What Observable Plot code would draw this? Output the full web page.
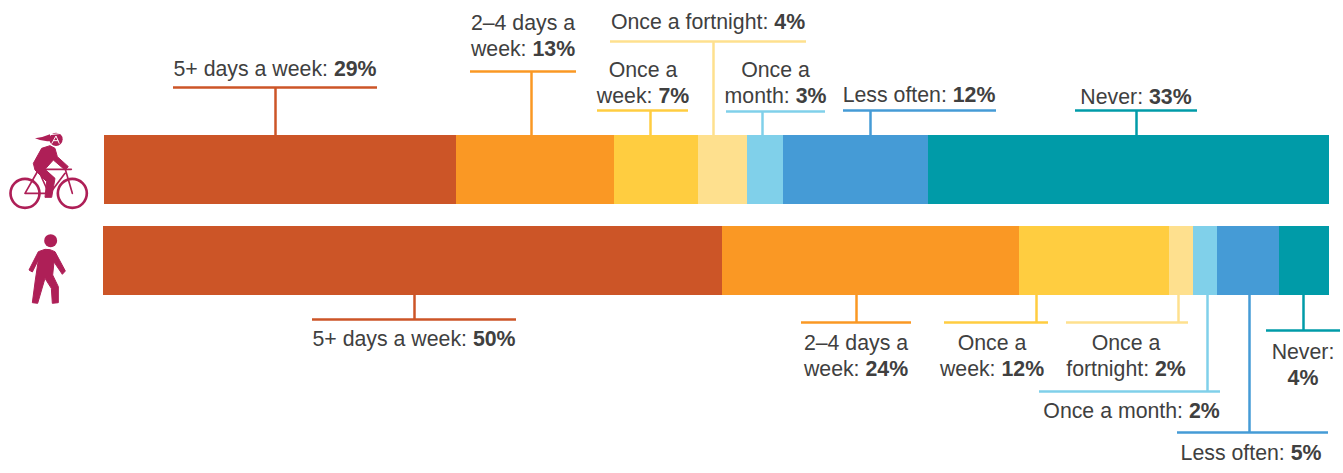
<!DOCTYPE html>
<html>
<head>
<meta charset="utf-8">
<style>
html,body{margin:0;padding:0;background:#fff}
svg{display:block}
</style>
<script src="https://cdn.jsdelivr.net/npm/d3@7"></script>
<script src="https://cdn.jsdelivr.net/npm/@observablehq/plot@0.6"></script>
</head>
<body>
<div id="chart"></div>
<script>
// ---- data ----
const frequencies = ["5+ days a week","2–4 days a week","Once a week","Once a fortnight","Once a month","Less often","Never"];
const colours = ["#cc5527","#fa9824","#ffcd40","#fee08e","#80d0ea","#459bd6","#009ba8"];
const cyclingShares = [28.75,12.85,6.9,4.0,2.9,11.9,32.7];
const walkingShares = [50.55,24.25,12.2,2.0,1.9,5.1,4.1];
const cyclingLabels = [29,13,7,4,3,12,33];
const walkingLabels = [50,24,12,2,2,5,4];

// label wording with line breaks
const cyclingWording = ["5+ days a week: ","2–4 days a\nweek: ","Once a\nweek: ","Once a fortnight: ","Once a\nmonth: ","Less often: ","Never: "];
const walkingWording = ["5+ days a week: ","2–4 days a\nweek: ","Once a\nweek: ","Once a\nfortnight: ","Once a month: ","Less often: ","Never:\n"];

// ---- layout, in page pixels ----
const barLeft = 104, barRight = 1329;
const pct = d3.scaleLinear([barLeft, barRight], [0, 100]);
const cyclingBar = [135, 204], walkingBar = [226, 295];
const cyclingLayout = {
  lineY:  [87,71,110,41,111,110,110],
  lineX1: [173,470,597,610,726,843,1075],
  lineX2: [377,576,688,806,825,996,1197],
  stemX:  [275,531,650,713,762,870,1136],
  textX:  [274.5,522.5,642.5,707.5,775,918.5,1135.5],
  textY:  [67,34,81,20,81,93,95]
};
const walkingLayout = {
  lineY:  [319,322,322,322,391,432,330],
  lineX1: [312,801,944,1066,1039,1177,1266],
  lineX2: [516,911,1048,1188,1220,1328,1340],
  stemX:  [414,856,1036,1178,1207,1249,1303],
  textX:  [413.5,855.5,991.5,1125.5,1131,1250.5,1302.5],
  textY:  [337,354,354,354,409,451,363]
};

// ---- tables ----
function segments(shares, start, band) {
  let acc = start;
  return shares.map((s, i) => {
    const r = {frequency: frequencies[i], x1: acc, x2: acc + s, y1: band[0], y2: band[1]};
    acc += s;
    return r;
  });
}
function leaders(layout, labels, wording, barEdge) {
  return frequencies.map((f, i) => ({
    frequency: f,
    y: layout.lineY[i],
    x1: pct(layout.lineX1[i]),
    x2: pct(layout.lineX2[i]),
    stem: pct(layout.stemX[i]),
    edge: barEdge,
    tx: pct(layout.textX[i]),
    ty: layout.textY[i],
    label: wording[i] + labels[i] + "%"
  }));
}
const bars = [...segments(cyclingShares, 0, cyclingBar), ...segments(walkingShares, -0.08, walkingBar)];
const notes = [
  ...leaders(cyclingLayout, cyclingLabels, cyclingWording, cyclingBar[0]),
  ...leaders(walkingLayout, walkingLabels, walkingWording, walkingBar[1])
];

// ---- icons ----
const iconColour = "#ae1f57";
function icons() {
  const ns = "http://www.w3.org/2000/svg";
  const g = document.createElementNS(ns, "g");
  g.setAttribute("transform", "translate(0,110) scale(0.33333)");
  g.innerHTML = `
  <g fill="none" stroke="${iconColour}" stroke-linecap="round" stroke-linejoin="round">
    <circle cx="75" cy="250" r="43.5" stroke-width="8"/>
    <circle cx="217" cy="250" r="43.5" stroke-width="8"/>
    <path d="M75 250 H140 M75 250 L115 180 L150 258 M130 178 H214 M150 250 L195 190 M195 175 L217 250" stroke-width="5"/>
  </g>
  <path d="M150 107 L165 115 L172 140 L205 170 L195 180 L160 150 L135 178 L165 205 L155 262 L135 262 L140 215 L105 180 L100 160 L125 115 Z"
        fill="${iconColour}" stroke="${iconColour}" stroke-width="3" stroke-linejoin="round"/>
  <circle cx="168" cy="88" r="20" fill="${iconColour}"/>
  <path d="M105 85 Q130 82 150 73 L152 93 Q128 96 105 85 Z" fill="${iconColour}"/>
  <path d="M150 74 L186 70 M155 101 L168 78 L178 101 M160 92 H175" fill="none" stroke="#fff" stroke-width="3"/>
  <circle cx="152" cy="392" r="19.5" fill="${iconColour}"/>
  <path d="M150 419 L165 425 L196 483 L187 493 L162 456 L158 495 L175 530 L175 578 L157 580 L154 535 L135 505 L113 580 L97 578 L106 510 L115 450 L97 486 L87 480 L115 425 L135 418 Z"
        fill="${iconColour}" stroke="${iconColour}" stroke-width="3" stroke-linejoin="round"/>`;
  return g;
}

// ---- chart ----
const chart = Plot.plot({
  width: 1343,
  height: 473,
  margin: 0,
  style: {background: "#fff"},
  x: {domain: [0, 100], range: [barLeft, barRight], axis: null},
  y: {domain: [0, 473], range: [0, 473], axis: null},
  color: {domain: frequencies, range: colours},
  marks: [
    Plot.rect(bars, {x1: "x1", x2: "x2", y1: "y1", y2: "y2", fill: "frequency", shapeRendering: "crispEdges"}),
    Plot.ruleX(notes, {x: "stem", y1: "y", y2: "edge", stroke: "frequency", strokeWidth: 2.5}),
    Plot.ruleY(notes, {y: "y", x1: "x1", x2: "x2", stroke: "frequency", strokeWidth: 2.5}),
    Plot.text(notes, {
      x: "tx", y: "ty", text: "label",
      fontFamily: "'Liberation Sans', Arial, sans-serif",
      fontSize: 21.3, lineHeight: 1.24, fill: "#404040",
      textAnchor: "middle", lineAnchor: "middle", className: "note"
    }),
    icons
  ]
});

// make the percentage of every label bold
chart.querySelectorAll(".note text").forEach(t => {
  const walker = document.createTreeWalker(t, NodeFilter.SHOW_TEXT);
  const nodes = [];
  while (walker.nextNode()) nodes.push(walker.currentNode);
  nodes.forEach(n => {
    const m = n.nodeValue.match(/^(.*?)(\d+%)$/s);
    if (!m) return;
    const b = document.createElementNS("http://www.w3.org/2000/svg", "tspan");
    b.setAttribute("font-weight", "bold");
    b.textContent = m[2];
    n.nodeValue = m[1];
    n.parentNode.appendChild(b);
  });
});
document.getElementById("chart").appendChild(chart);
</script>
</body>
</html>
